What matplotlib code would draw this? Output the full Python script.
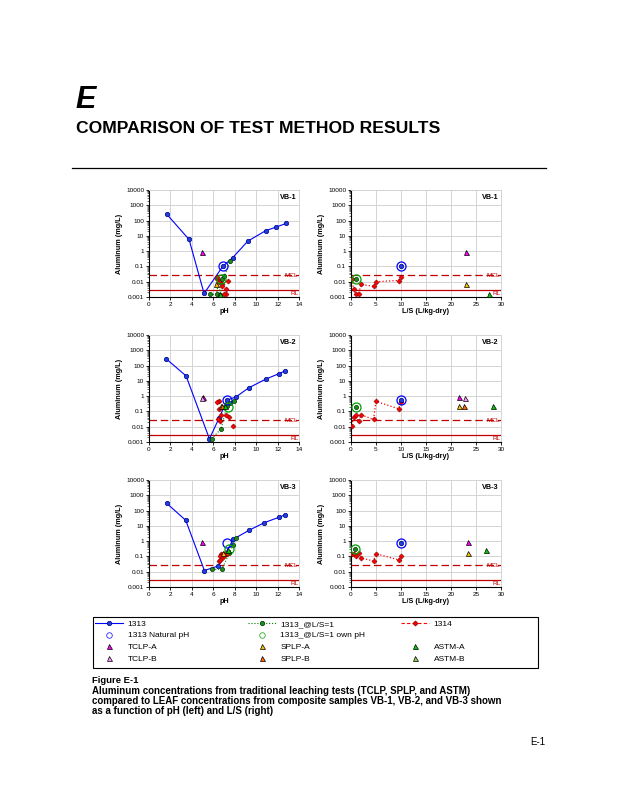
import numpy as np
import matplotlib
matplotlib.use('Agg')
import matplotlib.pyplot as plt
from matplotlib.lines import Line2D
from matplotlib.patches import Rectangle
from matplotlib.ticker import FixedLocator, FixedFormatter, LogLocator, NullFormatter

plt.rcParams['font.family'] = ['Liberation Sans', 'DejaVu Sans']

nan = np.nan
samples = ['VB-1', 'VB-2', 'VB-3']

# EPA 1313 (pH dependence)
ph_1313 = [[1.65, 3.74, 5.14, 6.88, 7.82, 9.22, 10.90, 11.84, 12.80],
           [1.60, 3.46, 5.64, 6.54, 7.29, 8.13, 9.31, 10.90, 12.15, 12.70],
           [1.65, 3.43, 5.17, 6.48, 7.88, 9.31, 10.75, 12.15, 12.70]]
al_1313 = [[265, 5.8, 0.0017, 0.1, 0.38, 4.5, 22, 37, 65],
           [280, 21, 0.0016, 0.037, 0.54, 0.9, 3.5, 13, 30, 45],
           [300, 23, 0.012, 0.024, 1.35, 5, 16, 37, 52]]

# 1313 natural pH
ph_nat = [6.88, 7.30, 7.26]
ls_nat = [10, 10, 10]
al_nat = [0.1, 0.6, 0.8]

# 1313 @ L/S=1
ph_ls1 = [[5.70, 6.30, 6.50, 6.65, 6.80, 7.00, 7.60],
          [5.86, 6.73, 7.26, 7.57, 7.94],
          [5.90, 6.80, 7.50, 7.80, 8.13]]
al_ls1 = [[0.0015, 0.0015, 0.012, 0.0014, 0.016, 0.022, 0.22],
          [0.0016, 0.0074, 0.22, 0.35, 0.5],
          [0.014, 0.015, 0.16, 0.6, 1.5]]

# 1313 @ L/S=1, own pH
ph_own = [6.70, 7.40, 7.47]
ls_own = [0.94, 0.90, 0.87]
al_own = [0.015, 0.19, 0.33]

# EPA 1314 (percolation column)
ls_1314 = [0.2, 0.5, 1.0, 1.5, 2.0, 4.5, 5.0, 9.5, 10.0]
ph_1314 = [[6.3, 7.2, 7.2, 7.0, 6.8, 6.8, 6.5, 7.4, 6.3],
           [7.85, 7.5, 6.7, 6.6, 7.2, 6.4, 6.55, 6.5, 6.3],
           [6.7, 6.9, 6.6, 7.1, 6.8, 6.5, 7.3, 6.6, 7.0]]
al_1314 = [[0.015, 0.0035, 0.0015, 0.0015, 0.0067, 0.005, 0.01, 0.012, 0.02],
           [0.012, 0.045, 0.06, 0.022, 0.06, 0.03, 0.45, 0.15, 0.4],
           [0.15, 0.14, 0.1, 0.17, 0.08, 0.05, 0.15, 0.06, 0.1]]

# traditional tests
tcla_ph = [4.98, 5.00, 4.92]; tcla_ls = [23.0, 21.6, 23.3]; tcla_al = [0.93, 0.85, 0.85]
tclb_ph = [nan, 4.95, nan]; tclb_ls = [nan, 22.7, nan]; tclb_al = [nan, 0.8, nan]
spla_ph = [6.26, 6.70, 6.90]; spla_ls = [23.0, 21.6, 23.3]; spla_al = [0.007, 0.22, 0.17]
splb_ph = [nan, 6.80, nan]; splb_ls = [nan, 22.6, nan]; splb_al = [nan, 0.22, nan]
asta_ph = [6.64, 7.10, 7.40]; asta_ls = [27.5, 28.3, 27.0]; asta_al = [0.0015, 0.22, 0.25]

mcl = 0.026
rl = 0.003

ytick_vals = [0.001, 0.01, 0.1, 1, 10, 100, 1000, 10000]
ytick_labels = ['0.001', '0.01', '0.1', '1', '10', '100', '1000', '10000']

c_blue = '#0000ff'
c_green = '#008000'
c_red = '#ff0000'
c_line = '#c00000'

fig = plt.figure(figsize=(6.18, 8), dpi=100)

W = 618.0
H = 800.0
rows = [(190, 297), (335, 442), (480, 587)]
cols = [(149, 299), (351, 501)]


def tri(ax, x, y, fc):
    ax.plot([x], [y], marker='^', ms=3.6, mfc=fc, mec='black', mew=0.5, ls='none', zorder=6)


for i in range(3):
    top, bot = rows[i]
    for j in range(2):
        x0, x1 = cols[j]
        ax = fig.add_axes([x0 / W, 1 - bot / H, (x1 - x0) / W, (bot - top) / H])
        ax.set_yscale('log')
        ax.set_ylim(0.001, 10000)
        if j == 0:
            ax.set_xlim(0, 14)
            ax.set_xticks(range(0, 15, 2))
            xl = 'pH'
        else:
            ax.set_xlim(0, 30)
            ax.set_xticks(range(0, 31, 5))
            xl = 'L/S (L/kg-dry)'
        ax.yaxis.set_major_locator(FixedLocator(ytick_vals))
        ax.yaxis.set_major_formatter(FixedFormatter(ytick_labels))
        ax.yaxis.set_minor_locator(LogLocator(base=10, subs=np.arange(2, 10), numticks=20))
        ax.yaxis.set_minor_formatter(NullFormatter())
        ax.grid(True, which='major', color='#d4d4d4', lw=0.7)
        ax.set_axisbelow(True)
        for s in ['top', 'right']:
            ax.spines[s].set_color('#d4d4d4')
            ax.spines[s].set_linewidth(0.7)
        for s in ['left', 'bottom']:
            ax.spines[s].set_color('black')
            ax.spines[s].set_linewidth(0.8)
        ax.tick_params(which='major', labelsize=4.6, length=2, width=0.6, pad=1.5, direction='out')
        ax.tick_params(which='minor', length=1.2, width=0.4, direction='out')
        ax.tick_params(axis='x', which='minor', length=0)
        ax.set_ylabel('Aluminum (mg/L)', fontsize=5.2, fontweight='bold', labelpad=2)
        ax.set_xlabel(xl, fontsize=5.2, fontweight='bold', labelpad=1)

        # reference lines
        ax.axhline(mcl, color=c_line, ls=(0, (6, 3)), lw=0.9, zorder=2)
        ax.axhline(rl, color=c_line, ls='-', lw=0.9, zorder=2)
        xm = ax.get_xlim()[1] * 0.995
        ax.text(xm, mcl * 1.05, 'MCL', color=c_line, fontsize=4.6, ha='right', va='center')
        ax.text(xm, rl / 1.9, 'RL', color=c_line, fontsize=4.6, ha='right', va='center')
        ax.text(0.985, 0.965, samples[i], transform=ax.transAxes, fontsize=5.2,
                fontweight='bold', ha='right', va='top')

        if j == 0:
            ax.plot(ph_1313[i], al_1313[i], color=c_blue, lw=0.8, marker='o', ms=3.2,
                    mfc='#1f3fe0', mec='#000080', mew=0.5, zorder=4)
            ax.plot(ph_ls1[i], al_ls1[i], color=c_green, lw=0.8, ls=':', marker='o', ms=3.0,
                    mfc='#1e8c1e', mec='#003300', mew=0.5, zorder=4)
            ax.plot(ph_1314[i], al_1314[i], ls='none', marker='D', ms=2.6,
                    mfc=c_red, mec='#800000', mew=0.4, zorder=5)
            ax.plot([ph_nat[i]], [al_nat[i]], ls='none', marker='o', ms=6.5, mfc='none',
                    mec=c_blue, mew=0.9, zorder=6)
            ax.plot([ph_own[i]], [al_own[i]], ls='none', marker='o', ms=6.5, mfc='none',
                    mec='#00a000', mew=0.9, zorder=6)
            tri(ax, tcla_ph[i], tcla_al[i], '#ff00ff')
            tri(ax, tclb_ph[i], tclb_al[i], '#ff99ff')
            tri(ax, spla_ph[i], spla_al[i], '#ffc000')
            tri(ax, splb_ph[i], splb_al[i], '#ff6600')
            tri(ax, asta_ph[i], asta_al[i], '#00cc00')
        else:
            ax.plot(ls_1314, al_1314[i], color=c_red, lw=0.9, ls=':', marker='D', ms=2.6,
                    mfc=c_red, mec='#800000', mew=0.4, zorder=5)
            ax.plot([ls_nat[i]], [al_nat[i]], ls='none', marker='o', ms=3.2, mfc='#1f3fe0',
                    mec='#000080', mew=0.5, zorder=6)
            ax.plot([ls_nat[i]], [al_nat[i]], ls='none', marker='o', ms=6.5, mfc='none',
                    mec=c_blue, mew=0.9, zorder=6)
            ax.plot([ls_own[i]], [al_own[i]], ls='none', marker='o', ms=3.0, mfc='#1e8c1e',
                    mec='#003300', mew=0.5, zorder=6)
            ax.plot([ls_own[i]], [al_own[i]], ls='none', marker='o', ms=6.5, mfc='none',
                    mec='#00a000', mew=0.9, zorder=6)
            tri(ax, tcla_ls[i], tcla_al[i], '#ff00ff')
            tri(ax, tclb_ls[i], tclb_al[i], '#ff99ff')
            tri(ax, spla_ls[i], spla_al[i], '#ffc000')
            tri(ax, splb_ls[i], splb_al[i], '#ff6600')
            tri(ax, asta_ls[i], asta_al[i], '#00cc00')

# legend (three frameless columns inside one box)
def mk(color, ls, marker, mfc, mec, ms=3.2):
    return Line2D([], [], color=color, ls=ls, lw=0.8, marker=marker, ms=ms, mfc=mfc, mec=mec, mew=0.5)

col1 = [(mk(c_blue, '-', 'o', '#1f3fe0', '#000080'), '1313'),
        (mk(c_blue, 'none', 'o', 'none', c_blue, 4), '1313 Natural pH'),
        (mk('k', 'none', '^', '#ff00ff', 'black', 3.6), 'TCLP-A'),
        (mk('k', 'none', '^', '#ff99ff', 'black', 3.6), 'TCLP-B')]
col2 = [(mk(c_green, ':', 'o', '#1e8c1e', '#003300'), '1313_@L/S=1'),
        (mk(c_green, 'none', 'o', 'none', '#00a000', 4), '1313_@L/S=1 own pH'),
        (mk('k', 'none', '^', '#ffc000', 'black', 3.6), 'SPLP-A'),
        (mk('k', 'none', '^', '#ff6600', 'black', 3.6), 'SPLP-B')]
col3 = [(mk(c_red, (0, (3, 2)), 'D', c_red, '#800000', 2.6), '1314'),
        (Line2D([], [], ls='none'), ' '),
        (mk('k', 'none', '^', '#00cc00', 'black', 3.6), 'ASTM-A'),
        (mk('k', 'none', '^', '#92d050', 'black', 3.6), 'ASTM-B')]

for entries, xpix in [(col1, 95), (col2, 248), (col3, 401)]:
    fig.legend([e[0] for e in entries], [e[1] for e in entries], loc='upper left',
               bbox_to_anchor=(xpix / W, 1 - 620 / H), frameon=False, fontsize=6,
               handlelength=3.4, handletextpad=0.5, labelspacing=0.45, borderpad=0,
               borderaxespad=0)

fig.patches.append(Rectangle((93 / W, 1 - 668 / H), 445 / W, 51 / H, transform=fig.transFigure,
                             fill=False, edgecolor='black', lw=0.8))

# page header
fig.text(75 / W, 1 - 108 / H, 'E', fontsize=22, fontweight='bold', style='italic', va='baseline')
fig.text(76 / W, 1 - 133 / H, 'COMPARISON OF TEST METHOD RESULTS', fontsize=12.6,
         fontweight='bold', va='baseline')
fig.add_artist(Line2D([72 / W, 546 / W], [1 - 168 / H, 1 - 168 / H], color='black', lw=0.9))

# caption
caption_lines = ['Aluminum concentrations from traditional leaching tests (TCLP, SPLP, and ASTM)',
                 'compared to LEAF concentrations from composite samples VB-1, VB-2, and VB-3 shown',
                 'as a function of pH (left) and L/S (right)']
fig.text(92 / W, 1 - 683 / H, 'Figure E-1', fontsize=6.8, fontweight='bold', va='baseline')
for k, line in enumerate(caption_lines):
    fig.text(92 / W, 1 - (694 + 10 * k) / H, line, fontsize=7, fontweight='bold', va='baseline')
fig.text(545 / W, 1 - 745 / H, 'E-1', fontsize=7, ha='right', va='baseline')

fig.savefig('out.png', dpi=100)
